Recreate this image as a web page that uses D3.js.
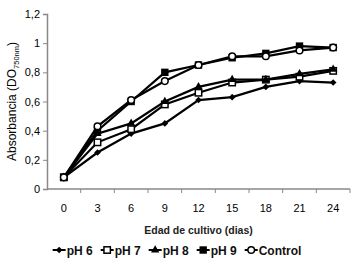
<!DOCTYPE html>
<html>
<head>
<meta charset="utf-8">
<script src="https://cdn.jsdelivr.net/npm/d3@7"></script>
<style>
  body { margin: 0; background: #fff; }
  svg { display: block; font-family: "Liberation Sans", Arial, sans-serif; }
</style>
</head>
<body>
<div id="chart"></div>
<script>
const days = ["0", "3", "6", "9", "12", "15", "18", "21", "24"];
const yTicks = [0, 0.2, 0.4, 0.6, 0.8, 1, 1.2];

const ph6 = [0.08, 0.25, 0.38, 0.45, 0.61, 0.63, 0.70, 0.74, 0.73];
const ph7 = [0.08, 0.32, 0.41, 0.58, 0.66, 0.73, 0.75, 0.77, 0.81];
const ph8 = [0.08, 0.38, 0.45, 0.60, 0.70, 0.75, 0.75, 0.79, 0.82];
const ph9 = [0.08, 0.40, 0.60, 0.80, 0.85, 0.90, 0.93, 0.98, 0.97];
const control = [0.08, 0.43, 0.61, 0.74, 0.85, 0.91, 0.91, 0.95, 0.97];

const seriesNames = ["pH 6", "pH 7", "pH 8", "pH 9", "Control"];
const seriesValues = [ph6, ph7, ph8, ph9, control];

const width = 356, height = 260;
const margin = {top: 14, right: 6, bottom: 71, left: 47};

const svg = d3.select("#chart")
  .append("svg")
  .attr("width", width)
  .attr("height", height);

const x = d3.scaleBand()
  .domain(days)
  .range([margin.left, width - margin.right]);

const y = d3.scaleLinear()
  .domain([0, 1.2])
  .range([height - margin.bottom, margin.top]);

const fmt = d => d3.format("~g")(d).replace(".", ",");

// y axis
const yAxis = svg.append("g")
  .attr("transform", `translate(${margin.left},0)`)
  .call(d3.axisLeft(y).tickValues(yTicks).tickSize(4).tickPadding(3).tickFormat(fmt));
yAxis.select(".domain").attr("stroke", "#888").attr("stroke-width", 1.5);
yAxis.selectAll(".tick line").attr("stroke", "#888");
yAxis.selectAll("text").attr("font-size", 11).attr("fill", "#000")
  .attr("font-family", "Liberation Sans, Arial, sans-serif");

// x axis (category axis, ticks between categories)
const xAxisG = svg.append("g")
  .attr("transform", `translate(0,${y(0)})`);
xAxisG.append("line")
  .attr("x1", x.range()[0]).attr("x2", x.range()[1])
  .attr("stroke", "#888").attr("stroke-width", 1.5);
xAxisG.selectAll(".tk")
  .data(days.slice(1).concat(["end"]))
  .join("line")
  .attr("x1", (d, i) => x(days[0]) + x.step() * (i + 1))
  .attr("x2", (d, i) => x(days[0]) + x.step() * (i + 1))
  .attr("y1", 0).attr("y2", 4)
  .attr("stroke", "#888");
xAxisG.selectAll("text")
  .data(days)
  .join("text")
  .attr("x", d => x(d) + x.bandwidth() / 2)
  .attr("y", 23)
  .attr("text-anchor", "middle")
  .attr("font-size", 11)
  .text(d => d);

// axis titles
svg.append("text")
  .attr("x", (x.range()[0] + x.range()[1]) / 2)
  .attr("y", 234)
  .attr("text-anchor", "middle")
  .attr("font-size", 10.5)
  .attr("font-weight", "bold")
  .attr("fill", "#222")
  .text("Edad de cultivo (dias)");

const yTitle = svg.append("text")
  .attr("transform", `translate(16,${(y(0) + y(1.2)) / 2}) rotate(-90)`)
  .attr("text-anchor", "middle")
  .attr("font-size", 12);
yTitle.append("tspan").text("Absorbancia (DO");
yTitle.append("tspan").attr("font-size", 7.5).attr("dy", 3).text("750nm");
yTitle.append("tspan").attr("dy", -3).text(")");

// markers
function drawMarker(g, name, cx, cy) {
  if (name === "pH 6") {
    g.append("path")
      .attr("d", d3.symbol(d3.symbolDiamond2, 28)())
      .attr("transform", `translate(${cx},${cy})`)
      .attr("fill", "#000");
  } else if (name === "pH 7") {
    g.append("rect").attr("x", cx - 3.2).attr("y", cy - 3.2)
      .attr("width", 6.4).attr("height", 6.4)
      .attr("fill", "#fff").attr("stroke", "#000").attr("stroke-width", 1.5);
  } else if (name === "pH 8") {
    g.append("path")
      .attr("d", d3.symbol(d3.symbolTriangle, 30)())
      .attr("transform", `translate(${cx},${cy})`)
      .attr("fill", "#000");
  } else if (name === "pH 9") {
    g.append("rect").attr("x", cx - 3.7).attr("y", cy - 3.7)
      .attr("width", 7.4).attr("height", 7.4)
      .attr("fill", "#000");
  } else {
    g.append("circle").attr("cx", cx).attr("cy", cy).attr("r", 3.3)
      .attr("fill", "#fff").attr("stroke", "#000").attr("stroke-width", 1.5);
  }
}

const line = d3.line()
  .x((d, i) => x(days[i]) + x.bandwidth() / 2)
  .y(d => y(d));

seriesValues.forEach((vals, si) => {
  const g = svg.append("g");
  g.append("path")
    .datum(vals)
    .attr("d", line)
    .attr("fill", "none")
    .attr("stroke", "#000")
    .attr("stroke-width", 2.2);
  vals.forEach((v, i) => drawMarker(g, seriesNames[si], x(days[i]) + x.bandwidth() / 2, y(v)));
});

// legend
const legend = svg.append("g");
let lx = 0;
seriesNames.forEach(name => {
  const item = legend.append("g").attr("transform", `translate(${lx},0)`);
  item.append("line").attr("x1", 0).attr("x2", 13).attr("y1", 0).attr("y2", 0)
    .attr("stroke", "#000").attr("stroke-width", 2);
  drawMarker(item, name, 6.5, 0);
  const t = item.append("text")
    .attr("x", 14).attr("y", 4.5)
    .attr("font-size", 12)
    .attr("font-weight", "bold")
    .attr("fill", "#111")
    .text(name);
  lx += 14 + t.node().getComputedTextLength() + 8;
});
legend.attr("transform", `translate(${(width - (lx - 8)) / 2 - 1},250)`);
</script>
</body>
</html>
